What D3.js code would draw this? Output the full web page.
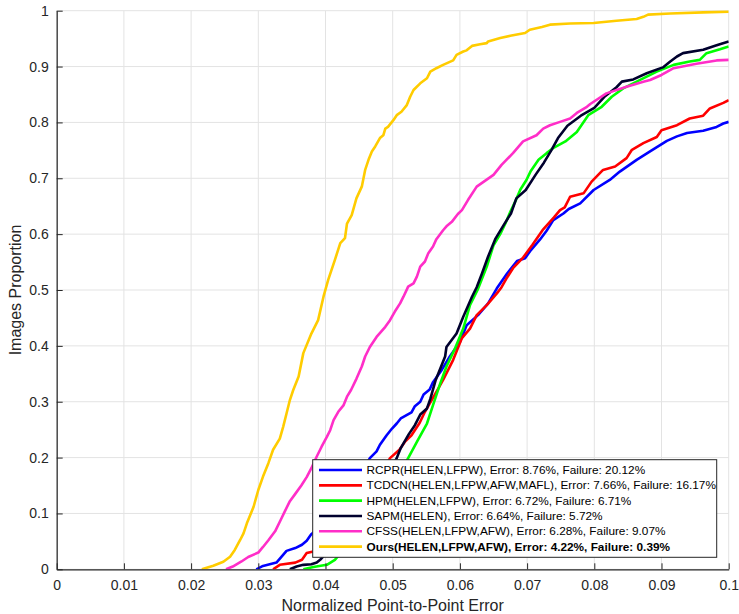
<!DOCTYPE html>
<html>
<head>
<meta charset="utf-8">
<script src="https://cdn.jsdelivr.net/npm/d3@7/dist/d3.min.js"></script>
<style>
  html, body { margin: 0; padding: 0; background: #ffffff; }
  svg { display: block; font-family: "Liberation Sans", Arial, Helvetica, sans-serif; }
</style>
</head>
<body>
<svg id="chart" width="739" height="614"></svg>
<script>
// ---------- data ----------
const xTicks = [0, 0.01, 0.02, 0.03, 0.04, 0.05, 0.06, 0.07, 0.08, 0.09, 0.1];
const xTickLabels = ["0", "0.01", "0.02", "0.03", "0.04", "0.05", "0.06", "0.07", "0.08", "0.09", "0.1"];
const yTicks = [0, 0.1, 0.2, 0.3, 0.4, 0.5, 0.6, 0.7, 0.8, 0.9, 1];
const yTickLabels = ["0", "0.1", "0.2", "0.3", "0.4", "0.5", "0.6", "0.7", "0.8", "0.9", "1"];
const xLabel = "Normalized Point-to-Point Error";
const yLabel = "Images Proportion";

const seriesNames = [
  "RCPR(HELEN,LFPW), Error: 8.76%, Failure: 20.12%",
  "TCDCN(HELEN,LFPW,AFW,MAFL), Error: 7.66%, Failure: 16.17%",
  "HPM(HELEN,LFPW), Error: 6.72%, Failure: 6.71%",
  "SAPM(HELEN), Error: 6.64%, Failure: 5.72%",
  "CFSS(HELEN,LFPW,AFW), Error: 6.28%, Failure: 9.07%",
  "Ours(HELEN,LFPW,AFW), Error: 4.22%, Failure: 0.39%"
];

const rcpr = [[0.0297,0],[0.0307,0.006],[0.0327,0.012],[0.0335,0.023],[0.0342,0.033],[0.0355,0.038],[0.0365,0.044],[0.0372,0.051],[0.0379,0.063],[0.0395,0.08],[0.0415,0.11],[0.0435,0.14],[0.0452,0.17],[0.0466,0.199],[0.0476,0.211],[0.0481,0.223],[0.0491,0.240],[0.0499,0.252],[0.0506,0.261],[0.0512,0.270],[0.0528,0.281],[0.0533,0.292],[0.0541,0.300],[0.0546,0.313],[0.0555,0.322],[0.0560,0.335],[0.0573,0.357],[0.0585,0.381],[0.0600,0.407],[0.0610,0.437],[0.0627,0.455],[0.0642,0.476],[0.0655,0.503],[0.0670,0.529],[0.0685,0.552],[0.0697,0.557],[0.0706,0.572],[0.0719,0.590],[0.0729,0.606],[0.0739,0.625],[0.0754,0.637],[0.0762,0.645],[0.0779,0.655],[0.0799,0.679],[0.0823,0.697],[0.0838,0.712],[0.0863,0.733],[0.0883,0.748],[0.0908,0.767],[0.0923,0.775],[0.0938,0.781],[0.0962,0.785],[0.0982,0.792],[0.0992,0.798],[0.1,0.801]];

const tcdcn = [[0.0322,0],[0.0332,0.008],[0.0355,0.012],[0.0365,0.017],[0.0372,0.029],[0.0382,0.032],[0.0405,0.05],[0.0435,0.09],[0.0460,0.13],[0.0480,0.165],[0.0496,0.199],[0.0510,0.214],[0.0518,0.228],[0.0528,0.240],[0.0540,0.262],[0.0548,0.282],[0.0558,0.303],[0.0568,0.324],[0.0575,0.339],[0.0590,0.375],[0.0603,0.414],[0.0615,0.431],[0.0625,0.455],[0.0640,0.473],[0.0655,0.494],[0.0662,0.505],[0.0670,0.522],[0.0679,0.539],[0.0694,0.558],[0.0708,0.581],[0.0723,0.607],[0.0740,0.630],[0.0749,0.643],[0.0756,0.648],[0.0764,0.667],[0.0784,0.673],[0.0796,0.694],[0.0813,0.715],[0.0831,0.721],[0.0848,0.736],[0.0856,0.751],[0.0873,0.763],[0.0893,0.774],[0.0900,0.786],[0.0923,0.795],[0.0942,0.807],[0.0962,0.812],[0.0972,0.825],[0.0992,0.835],[0.1,0.840]];

const hpm = [[0.0367,0],[0.0382,0.004],[0.0402,0.008],[0.0414,0.017],[0.0430,0.04],[0.0460,0.08],[0.0485,0.12],[0.0505,0.16],[0.0523,0.199],[0.0536,0.228],[0.0551,0.261],[0.0560,0.294],[0.0570,0.330],[0.0580,0.363],[0.0593,0.396],[0.0605,0.431],[0.0615,0.473],[0.0627,0.502],[0.0640,0.542],[0.0650,0.580],[0.0660,0.600],[0.0668,0.620],[0.0675,0.640],[0.0683,0.660],[0.0690,0.680],[0.0699,0.697],[0.0705,0.712],[0.0717,0.733],[0.0729,0.745],[0.0740,0.755],[0.0757,0.766],[0.0774,0.783],[0.0791,0.813],[0.0811,0.828],[0.0826,0.846],[0.0843,0.861],[0.0863,0.873],[0.0893,0.891],[0.0918,0.903],[0.0942,0.909],[0.0957,0.912],[0.0967,0.924],[0.0987,0.931],[0.1,0.936]];

const sapm = [[0.0347,0],[0.0357,0.005],[0.0367,0.008],[0.0379,0.009],[0.0387,0.012],[0.0392,0.017],[0.0410,0.04],[0.0440,0.08],[0.0465,0.12],[0.0488,0.16],[0.0506,0.199],[0.0512,0.217],[0.0524,0.242],[0.0533,0.258],[0.0541,0.277],[0.0551,0.288],[0.0556,0.305],[0.0564,0.339],[0.0578,0.381],[0.0580,0.398],[0.0595,0.422],[0.0605,0.452],[0.0618,0.488],[0.0625,0.505],[0.0633,0.530],[0.0642,0.560],[0.0653,0.592],[0.0666,0.618],[0.0676,0.637],[0.0684,0.664],[0.0698,0.679],[0.0713,0.707],[0.0725,0.728],[0.0736,0.750],[0.0746,0.772],[0.0760,0.794],[0.0780,0.812],[0.0800,0.826],[0.0816,0.847],[0.0833,0.863],[0.0841,0.873],[0.0858,0.877],[0.0878,0.888],[0.0903,0.899],[0.0913,0.909],[0.0923,0.918],[0.0932,0.924],[0.0962,0.930],[0.0982,0.938],[0.1,0.945]];

const cfss = [[0.0252,0],[0.0262,0.005],[0.0275,0.014],[0.0285,0.022],[0.0300,0.030],[0.0307,0.040],[0.0315,0.052],[0.0325,0.068],[0.0334,0.090],[0.0340,0.105],[0.0347,0.122],[0.0355,0.135],[0.0364,0.150],[0.0372,0.165],[0.0379,0.181],[0.0387,0.202],[0.0394,0.219],[0.0402,0.237],[0.0407,0.249],[0.0412,0.267],[0.0419,0.282],[0.0427,0.294],[0.0432,0.309],[0.0438,0.321],[0.0446,0.341],[0.0454,0.363],[0.0459,0.381],[0.0466,0.398],[0.0476,0.416],[0.0489,0.434],[0.0496,0.446],[0.0503,0.461],[0.0511,0.476],[0.0516,0.488],[0.0523,0.506],[0.0531,0.512],[0.0536,0.524],[0.0541,0.542],[0.0548,0.551],[0.0553,0.566],[0.0560,0.578],[0.0565,0.591],[0.0575,0.607],[0.0580,0.614],[0.0588,0.622],[0.0597,0.636],[0.0603,0.643],[0.0612,0.661],[0.0625,0.685],[0.0650,0.706],[0.0662,0.724],[0.0679,0.745],[0.0694,0.766],[0.0714,0.777],[0.0724,0.789],[0.0734,0.795],[0.0749,0.801],[0.0764,0.807],[0.0774,0.817],[0.0789,0.828],[0.0794,0.833],[0.0818,0.852],[0.0848,0.864],[0.0873,0.873],[0.0883,0.876],[0.0900,0.885],[0.0918,0.897],[0.0952,0.905],[0.0982,0.911],[0.1,0.912]];

const ours = [[0.0216,0],[0.0233,0.0065],[0.0248,0.0136],[0.0258,0.0226],[0.0265,0.0346],[0.0273,0.0525],[0.0278,0.0644],[0.0283,0.0823],[0.0288,0.0972],[0.0293,0.112],[0.0300,0.142],[0.0307,0.166],[0.0315,0.190],[0.0322,0.214],[0.0332,0.234],[0.0337,0.255],[0.0342,0.279],[0.0347,0.303],[0.0352,0.321],[0.0360,0.345],[0.0367,0.387],[0.0379,0.422],[0.0389,0.446],[0.0397,0.488],[0.0404,0.518],[0.0414,0.554],[0.0422,0.584],[0.0429,0.593],[0.0432,0.619],[0.0439,0.634],[0.0446,0.664],[0.0454,0.685],[0.0459,0.715],[0.0464,0.733],[0.0469,0.748],[0.0474,0.757],[0.0481,0.772],[0.0486,0.777],[0.0489,0.789],[0.0493,0.792],[0.0501,0.804],[0.0506,0.813],[0.0513,0.819],[0.0521,0.831],[0.0526,0.846],[0.0531,0.858],[0.0541,0.870],[0.0551,0.879],[0.0556,0.891],[0.0565,0.897],[0.0575,0.903],[0.0590,0.911],[0.0595,0.921],[0.0605,0.927],[0.0610,0.929],[0.0618,0.937],[0.0630,0.940],[0.0640,0.942],[0.0642,0.945],[0.0660,0.951],[0.0675,0.955],[0.0697,0.960],[0.0704,0.966],[0.0722,0.971],[0.0734,0.975],[0.0764,0.977],[0.0799,0.978],[0.0833,0.982],[0.0863,0.985],[0.0873,0.989],[0.0880,0.993],[0.0913,0.995],[0.0962,0.997],[0.1,0.998]];

const seriesData = [rcpr, tcdcn, hpm, sapm, cfss, ours];

// ---------- styles ----------
const seriesColors = ["#0000ff", "#ff0000", "#00ff00", "#00002e", "#ff2ec8", "#ffcc00"];
const axisColor = "#262626";
const gridColor = "#e3e3e3";

// ---------- layout ----------
const svg = d3.select("#chart");
const L = 56.7, R = 728.7, T = 10.7, B = 569.3;

const x = d3.scaleLinear().domain([0, 0.1]).range([L, R]);
const y = d3.scaleLinear().domain([0, 1]).range([B, T]);

svg.append("rect").attr("width", 739).attr("height", 614).attr("fill", "#fff");

// grid
const grid = svg.append("g");
grid.selectAll("line.gx").data(xTicks).enter().append("line")
  .attr("x1", d => x(d)).attr("x2", d => x(d))
  .attr("y1", T).attr("y2", B)
  .attr("stroke", gridColor).attr("stroke-width", 1);
grid.selectAll("line.gy").data(yTicks).enter().append("line")
  .attr("x1", L).attr("x2", R)
  .attr("y1", d => y(d)).attr("y2", d => y(d))
  .attr("stroke", gridColor).attr("stroke-width", 1);

// curves
svg.append("clipPath").attr("id", "plotclip").append("rect")
  .attr("x", L).attr("y", T - 3).attr("width", R - L).attr("height", B - T + 3);

const line = d3.line().x(d => x(d[0])).y(d => y(d[1]));
const curves = svg.append("g").attr("clip-path", "url(#plotclip)");
seriesData.forEach((s, i) => {
  curves.append("path")
    .attr("d", line(s))
    .attr("fill", "none")
    .attr("stroke", seriesColors[i])
    .attr("stroke-width", 2.6)
    .attr("stroke-linejoin", "round")
    .attr("stroke-linecap", "butt");
});

// axes
const xAxis = d3.axisBottom(x).tickValues(xTicks)
  .tickFormat((d, i) => xTickLabels[i])
  .tickSizeInner(-6).tickSizeOuter(0).tickPadding(11);
const yAxis = d3.axisLeft(y).tickValues(yTicks)
  .tickFormat((d, i) => yTickLabels[i])
  .tickSizeInner(-6).tickSizeOuter(0).tickPadding(8);

const gx = svg.append("g").attr("transform", `translate(0,${B})`).call(xAxis);
const gy = svg.append("g").attr("transform", `translate(${L},0)`).call(yAxis);
[gx, gy].forEach(g => {
  g.selectAll("path.domain").attr("stroke", axisColor).attr("stroke-width", 1.2);
  g.selectAll(".tick line").attr("stroke", axisColor).attr("stroke-width", 1);
  g.selectAll(".tick text").attr("fill", axisColor)
    .style("font-size", "14px").style("font-family", "'Liberation Sans', Arial, sans-serif");
});

// axis labels
svg.append("text")
  .attr("x", (L + R) / 2).attr("y", 611)
  .attr("text-anchor", "middle")
  .attr("fill", axisColor)
  .style("font-size", "16px")
  .text(xLabel);
svg.append("text")
  .attr("transform", `translate(21,${(T + B) / 2}) rotate(-90)`)
  .attr("text-anchor", "middle")
  .attr("fill", axisColor)
  .style("font-size", "16px")
  .text(yLabel);

// legend
const lg = svg.append("g");
lg.append("rect")
  .attr("x", 312.7).attr("y", 459.7)
  .attr("width", 404).attr("height", 97.6)
  .attr("fill", "#fff").attr("stroke", axisColor).attr("stroke-width", 1);
seriesNames.forEach((name, i) => {
  const cy = 470 + i * 15.33;
  lg.append("line")
    .attr("x1", 319).attr("x2", 362)
    .attr("y1", cy).attr("y2", cy)
    .attr("stroke", seriesColors[i]).attr("stroke-width", 2.6);
  lg.append("text")
    .attr("x", 366.5).attr("y", cy)
    .attr("dy", "0.35em")
    .attr("fill", "#000")
    .style("font-size", "11.8px")
    .style("font-weight", i === seriesNames.length - 1 ? "bold" : "normal")
    .text(name);
});
</script>
</body>
</html>
